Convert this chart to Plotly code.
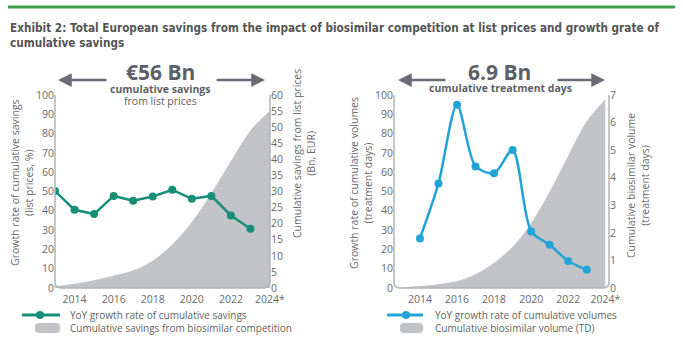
import plotly.graph_objects as go

W, H = 683, 346

# ---- data -------------------------------------------------------------
growth_years = [2013, 2014, 2015, 2016, 2017, 2018, 2019, 2020, 2021, 2022, 2023]
savings_growth = [50.2, 40.5, 38.3, 47.7, 45.2, 47.4, 50.9, 46.2, 47.7, 37.6, 30.7]

area_years = [2013, 2014, 2015, 2016, 2017, 2018, 2019, 2020, 2021, 2022, 2023, 2024]
cum_savings = [0.6, 1.3, 2.4, 3.8, 5.5, 8.5, 13.5, 20.5, 29.5, 39.5, 49.0, 55.0]

volume_years = [2014, 2015, 2016, 2017, 2018, 2019, 2020, 2021, 2022, 2023]
volume_growth = [25.7, 54.2, 95.0, 63.0, 59.5, 71.5, 29.3, 22.4, 14.0, 9.4]

cum_volume = [0.02, 0.07, 0.14, 0.25, 0.5, 0.92, 1.5, 2.35, 3.5, 4.8, 6.05, 6.85]

x_ticks = [2014, 2016, 2018, 2020, 2022, 2024]
x_ticktext = ["2014", "2016", "2018", "2020", "2022", "2024*"]

GREEN = "#178f78"
BLUE = "#22a3d8"
AREA = "#c2c3c7"
FRAME = "#b3b4b8"
TEXT = "#6a6a6a"
HEAD = "#5e5f66"
FONT = "Open Sans"


def px(x):
    return x / W


def py(y):
    return 1 - y / H


fig = go.Figure()

# left panel: area on base axis (right side), line on overlaying axis (left side)
fig.add_trace(go.Scatter(
    x=area_years, y=cum_savings, xaxis="x", yaxis="y",
    mode="lines", line=dict(width=0, color=AREA, shape="spline"),
    fill="tozeroy", fillcolor=AREA, showlegend=False,
    name="Cumulative savings from biosimilar competition",
))
fig.add_trace(go.Scatter(
    x=growth_years, y=savings_growth, xaxis="x", yaxis="y2",
    mode="lines+markers", line=dict(width=2.5, color=GREEN),
    marker=dict(size=8, color=GREEN), showlegend=False,
    name="YoY growth rate of cumulative savings",
))

# right panel
fig.add_trace(go.Scatter(
    x=area_years, y=cum_volume, xaxis="x2", yaxis="y3",
    mode="lines", line=dict(width=0, color=AREA, shape="spline"),
    fill="tozeroy", fillcolor=AREA, showlegend=False,
    name="Cumulative biosimilar volume (TD)",
))
fig.add_trace(go.Scatter(
    x=volume_years, y=volume_growth, xaxis="x2", yaxis="y4",
    mode="lines+markers", line=dict(width=2.5, color=BLUE, shape="spline", smoothing=0.8),
    marker=dict(size=8, color=BLUE), showlegend=False,
    name="YoY growth rate of cumulative volumes",
))

L1, R1 = 55, 270
L2, R2 = 394, 609
TOP, BOT = 95, 288

tickfont = dict(family=FONT, size=10.5, color=TEXT)
xcommon = dict(tickvals=x_ticks, ticktext=x_ticktext, showgrid=False, zeroline=False,
               showline=False, ticks="", tickfont=tickfont, fixedrange=True, automargin=False,
               ticklabelstandoff=3)
ycommon = dict(showgrid=False, zeroline=False, showline=False, ticks="", tickfont=tickfont,
               automargin=False)

fig.update_layout(
    template="none",
    width=W, height=H,
    margin=dict(l=0, r=0, t=0, b=0, autoexpand=False),
    paper_bgcolor="white", plot_bgcolor="rgba(0,0,0,0)",
    font=dict(family=FONT, color=TEXT),
    showlegend=False,
    xaxis=dict(domain=[px(L1), px(R1)], range=[2013, 2024], anchor="y", **xcommon),
    yaxis=dict(domain=[py(BOT), py(TOP)], range=[0, 60], dtick=5, side="right",
               anchor="x", **ycommon),
    yaxis2=dict(range=[0, 100], dtick=10, side="left", overlaying="y", anchor="x", **ycommon),
    xaxis2=dict(domain=[px(L2), px(R2)], range=[2012.6, 2024.2], anchor="y3", **xcommon),
    yaxis3=dict(domain=[py(BOT), py(TOP)], range=[0, 7], dtick=1, side="right",
                anchor="x2", **ycommon),
    yaxis4=dict(range=[0, 100], dtick=10, side="left", overlaying="y3", anchor="x2", **ycommon),
)

shapes = []

# plot frames with rounded bottom corners
r = 6
for (l, rr) in [(L1, R1), (L2, R2)]:
    path = (f"M {px(l)},{py(TOP)} L {px(l)},{py(BOT - r)} "
            f"Q {px(l)},{py(BOT)} {px(l + r)},{py(BOT)} "
            f"L {px(rr - r)},{py(BOT)} Q {px(rr)},{py(BOT)} {px(rr)},{py(BOT - r)} "
            f"L {px(rr)},{py(TOP)}")
    shapes.append(dict(type="path", path=path, xref="paper", yref="paper",
                       line=dict(color=FRAME, width=1.5), layer="above"))

# green rule at the very top
shapes.append(dict(type="line", xref="paper", yref="paper", x0=px(8), x1=px(675),
                   y0=py(7), y1=py(7), line=dict(color="#3d9f4c", width=3)))

ann = []


def label(x, y, text, size=10.5, color=TEXT, angle=0, xanchor="center", bold=False):
    ann.append(dict(x=px(x), y=py(y), xref="paper", yref="paper", showarrow=False,
                    xanchor=xanchor, yanchor="middle", textangle=angle,
                    text=f"<b>{text}</b>" if bold else text,
                    font=dict(family=FONT, size=size, color=color)))


ann.append(dict(
    x=px(8), y=py(19), xref="paper", yref="paper", xanchor="left", yanchor="top",
    align="left", showarrow=False,
    text="<b>Exhibit 2: Total European savings from the impact of biosimilar competition at list prices and growth grate of<br>cumulative savings</b>",
    font=dict(family="Liberation Sans Narrow, DejaVu Sans Condensed, sans-serif", size=11.7, color="#555555"),
))

# panel headlines
label(160, 72, "€56 Bn", size=21, color=HEAD, bold=True)
label(160, 89, "cumulative savings", size=10.5, color=HEAD, bold=True)
label(160, 101, "from list prices", size=10.5, color=HEAD)
label(499, 72, "6.9 Bn", size=21, color=HEAD, bold=True)
label(500, 88, "cumulative treatment days", size=10.5, color=HEAD, bold=True)

# double-headed span arrows
for (tail, head, yy) in [(108, 58, 80), (215, 265, 80), (447, 398, 80), (556, 605, 80)]:
    ann.append(dict(x=px(head), y=py(yy), xref="paper", yref="paper",
                    ax=tail - head, ay=0, axref="pixel", ayref="pixel",
                    showarrow=True, arrowhead=2, arrowsize=1.1, arrowwidth=2.5,
                    arrowcolor="#6b6b73", text=""))

# axis titles
label(22, 183, "Growth rate of cumulative savings<br>(list prices, %)", angle=-90)
label(304, 154, "Cumulative savings from list prices<br>(Bn, EUR)", angle=-90)
label(361, 183, "Growth rate of cumulative volumes<br>(treatment days)", angle=-90)
label(638, 186, "Cumulative biosimilar volume<br>(treatment days)", angle=-90)

# legends
legend_rows = [
    (22, 60, 40, 35, 68, GREEN, "YoY growth rate of cumulative savings",
     "Cumulative savings from biosimilar competition"),
    (387, 423, 406, 400, 433, BLUE, "YoY growth rate of cumulative volumes",
     "Cumulative biosimilar volume (TD)"),
]
for (lx0, lx1, mx, gx0, tx, col, t1, t2) in legend_rows:
    y1, y2 = 315, 328
    shapes.append(dict(type="line", xref="paper", yref="paper", x0=px(lx0), x1=px(lx1),
                       y0=py(y1), y1=py(y1), line=dict(color=col, width=3)))
    shapes.append(dict(type="circle", xref="paper", yref="paper",
                       x0=px(mx - 4), x1=px(mx + 4), y0=py(y1 + 4), y1=py(y1 - 4),
                       fillcolor=col, line=dict(width=0)))
    rr2 = 4
    top, bot = y2 - 5, y2 + 5
    path = (f"M {px(gx0 + rr2)},{py(top)} L {px(lx1 - rr2)},{py(top)} "
            f"Q {px(lx1)},{py(top)} {px(lx1)},{py(top + rr2)} L {px(lx1)},{py(bot - rr2)} "
            f"Q {px(lx1)},{py(bot)} {px(lx1 - rr2)},{py(bot)} L {px(gx0 + rr2)},{py(bot)} "
            f"Q {px(gx0)},{py(bot)} {px(gx0)},{py(bot - rr2)} L {px(gx0)},{py(top + rr2)} "
            f"Q {px(gx0)},{py(top)} {px(gx0 + rr2)},{py(top)} Z")
    shapes.append(dict(type="path", path=path, xref="paper", yref="paper",
                       fillcolor=AREA, line=dict(width=0)))
    label(tx, y1, t1, size=10, color="#5f5f5f", xanchor="left")
    label(tx, y2, t2, size=10, color="#5f5f5f", xanchor="left")

fig.update_layout(annotations=ann, shapes=shapes)

fig.write_html("out.html")
